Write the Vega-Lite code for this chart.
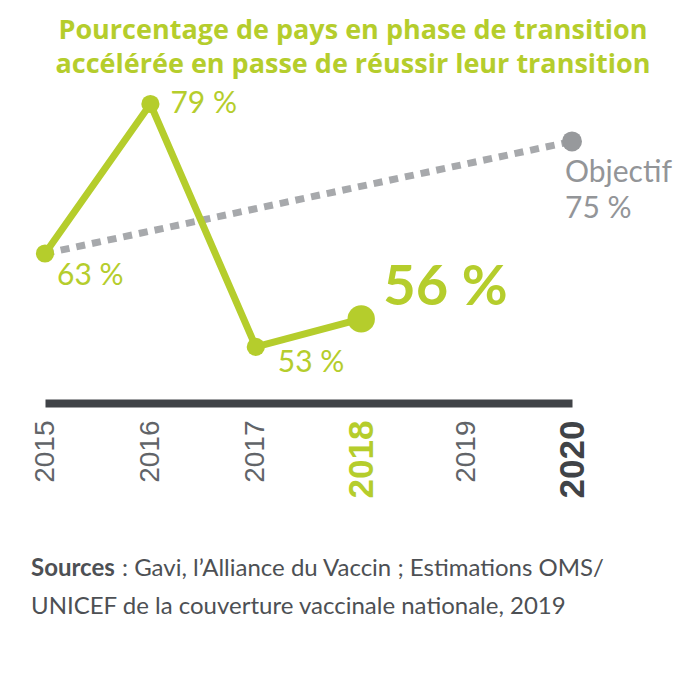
{
  "$schema": "https://vega.github.io/schema/vega-lite/v6.json",
  "background": "white",
  "padding": {"left": 31, "top": 17, "right": 10, "bottom": 10},
  "title": {
    "text": ["Pourcentage de pays en phase de transition", "accélérée en passe de réussir leur transition"],
    "font": "Open Sans",
    "fontSize": 27,
    "fontWeight": "bold",
    "color": "#b5cd2c",
    "lineHeight": 34,
    "anchor": "middle",
    "offset": -3
  },
  "config": {"view": {"stroke": null}},
  "datasets": {
    "series": [
      {"year": 2015, "value": 63, "series": "Réel", "label": "63 %"},
      {"year": 2016, "value": 79, "series": "Réel", "label": "79 %"},
      {"year": 2017, "value": 53, "series": "Réel", "label": "53 %"},
      {"year": 2018, "value": 56, "series": "Réel", "label": "56 %"},
      {"year": 2015, "value": 63, "series": "Objectif", "label": "63 %"},
      {"year": 2020, "value": 75, "series": "Objectif", "label": "75 %"}
    ],
    "sources": [
      {"line": 1, "part": "bold", "text": "Sources"},
      {"line": 1, "part": "after", "text": " : Gavi, l’Alliance du Vaccin ; Estimations OMS/"},
      {"line": 2, "part": "rest", "text": "UNICEF de la couverture vaccinale nationale, 2019"}
    ]
  },
  "spacing": 52,
  "vconcat": [
    {
      "width": 527,
      "height": 327,
      "data": {"name": "series"},
      "encoding": {
        "x": {
          "field": "year",
          "type": "quantitative",
          "scale": {"domain": [2015, 2020]},
          "axis": {
            "values": [2015, 2016, 2017, 2018, 2019, 2020],
            "format": "d",
            "title": null,
            "grid": false,
            "ticks": false,
            "domainWidth": 8,
            "domainColor": "#404347",
            "labelAngle": -90,
            "labelAlign": "right",
            "labelBaseline": "middle",
            "labelPadding": 17,
            "labelFlush": false,
            "labelOverlap": false,
            "labelFont": "Liberation Sans",
            "labelFontSize": {"condition": {"test": "datum.value == 2018 || datum.value == 2020", "value": 35}, "value": 28},
            "labelFontWeight": {"condition": {"test": "datum.value == 2018 || datum.value == 2020", "value": "bold"}, "value": "normal"},
            "labelColor": {"condition": [
              {"test": "datum.value == 2018", "value": "#b5cd2c"},
              {"test": "datum.value == 2020", "value": "#404347"}
            ], "value": "#616468"}
          }
        },
        "y": {
          "field": "value",
          "type": "quantitative",
          "scale": {"domain": [47, 82], "zero": false},
          "axis": null
        }
      },
      "layer": [
        {
          "transform": [{"filter": "datum.series == 'Objectif'"}],
          "mark": {"type": "line", "color": "#a7a9ac", "strokeWidth": 7, "strokeDash": [9, 7]}
        },
        {
          "transform": [{"filter": "datum.series == 'Objectif' && datum.year == 2020"}],
          "mark": {"type": "circle", "color": "#97999c", "opacity": 1, "size": 400}
        },
        {
          "transform": [{"filter": "datum.series == 'Réel'"}],
          "mark": {"type": "line", "color": "#b5cd2c", "strokeWidth": 7}
        },
        {
          "transform": [{"filter": "datum.series == 'Réel' && datum.year < 2018"}],
          "mark": {"type": "circle", "color": "#b5cd2c", "opacity": 1, "size": 330}
        },
        {
          "transform": [{"filter": "datum.series == 'Réel' && datum.year == 2018"}],
          "mark": {"type": "circle", "color": "#b5cd2c", "opacity": 1, "size": 750}
        },
        {
          "transform": [{"filter": "datum.series == 'Réel' && datum.year == 2015"}],
          "mark": {"type": "text", "align": "left", "baseline": "middle", "dx": 12, "dy": 22, "font": "Lato", "fontSize": 30, "color": "#b5cd2c"},
          "encoding": {"text": {"field": "label"}}
        },
        {
          "transform": [{"filter": "datum.series == 'Réel' && datum.year == 2016"}],
          "mark": {"type": "text", "align": "left", "baseline": "middle", "dx": 20, "dy": 0, "font": "Lato", "fontSize": 30, "color": "#b5cd2c"},
          "encoding": {"text": {"field": "label"}}
        },
        {
          "transform": [{"filter": "datum.series == 'Réel' && datum.year == 2017"}],
          "mark": {"type": "text", "align": "left", "baseline": "middle", "dx": 22, "dy": 16, "font": "Lato", "fontSize": 30, "color": "#b5cd2c"},
          "encoding": {"text": {"field": "label"}}
        },
        {
          "transform": [{"filter": "datum.series == 'Réel' && datum.year == 2018"}],
          "mark": {"type": "text", "align": "left", "baseline": "middle", "dx": 22, "dy": -31, "font": "Lato", "fontSize": 56, "fontWeight": "bold", "color": "#b5cd2c"},
          "encoding": {"text": {"field": "label"}}
        },
        {
          "transform": [{"filter": "datum.series == 'Objectif' && datum.year == 2020"}],
          "mark": {"type": "text", "align": "left", "baseline": "middle", "dx": -7, "dy": 32, "font": "Lato", "fontSize": 30, "color": "#939598"},
          "encoding": {"text": {"value": "Objectif"}}
        },
        {
          "transform": [{"filter": "datum.series == 'Objectif' && datum.year == 2020"}],
          "mark": {"type": "text", "align": "left", "baseline": "middle", "dx": -7, "dy": 68, "font": "Lato", "fontSize": 30, "color": "#939598"},
          "encoding": {"text": {"field": "label"}}
        }
      ]
    },
    {
      "width": 630,
      "height": 76,
      "data": {"name": "sources"},
      "encoding": {
        "x": {"datum": 0, "type": "quantitative", "scale": {"domain": [0, 1]}, "axis": null},
        "y": {"field": "line", "type": "ordinal", "scale": {"type": "point", "padding": 0.5}, "axis": null},
        "text": {"field": "text"}
      },
      "layer": [
        {
          "transform": [{"filter": "datum.part == 'bold'"}],
          "mark": {"type": "text", "align": "left", "baseline": "middle", "dx": -14, "font": "Lato", "fontSize": 24, "fontWeight": "bold", "color": "#4d5054"}
        },
        {
          "transform": [{"filter": "datum.part == 'after'"}],
          "mark": {"type": "text", "align": "left", "baseline": "middle", "dx": 77, "font": "Lato", "fontSize": 24, "color": "#4d5054"}
        },
        {
          "transform": [{"filter": "datum.part == 'rest'"}],
          "mark": {"type": "text", "align": "left", "baseline": "middle", "dx": -14, "font": "Lato", "fontSize": 24, "color": "#4d5054"}
        }
      ]
    }
  ]
}
